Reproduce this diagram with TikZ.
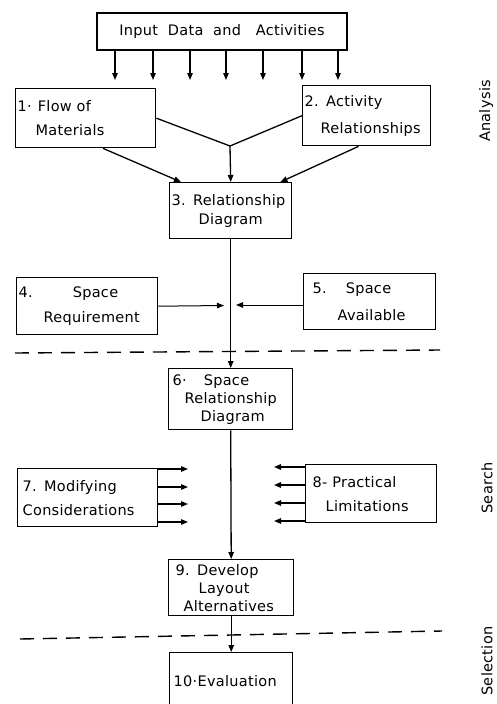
\documentclass[tikz,border=0pt]{standalone}
\usepackage{fontspec}
\newfontfamily\lettering{DejaVu Sans}[LetterSpace=2]
\usetikzlibrary{arrows.meta}
\tikzset{
  stagebox/.style={draw,line width=1.4pt,align=left,inner xsep=2pt,inner ysep=0pt,font=\lettering\fontsize{14.5}{#1}\selectfont},
  stagebox/.default=19,
  flow/.style={line width=1.3pt,-{Triangle[length=7pt,width=5.5pt]}},
  feed/.style={line width=1pt,-{Triangle[length=7pt,width=5.5pt]}},
  link/.style={line width=1.3pt},
  divider/.style={line width=1.4pt,dash pattern=on 14pt off 9pt},
  sidelabel/.style={font=\lettering\fontsize{14.5}{17}\selectfont,rotate=90}
}
\newcommand{\stagebox}[7]{\node[stagebox=#6,anchor=north west,text width=#4,minimum height=#5] (#1) at (#2,#3) {#7};}
\newcommand{\flowarrow}[2]{\draw[flow] (#1) -- (#2);}
\newcommand{\flowlink}[2]{\draw[link] (#1) -- (#2);}

\begin{document}
\begin{tikzpicture}[x=1pt,y=-1pt]
	\useasboundingbox (0,0) rectangle (496,704);
	\clip (0,0) rectangle (496,704);
	% analysis
	\node[stagebox,align=center,minimum width=250pt,minimum height=37pt] (inp) at (222,31.5) {Input~~Data~~and~~~Activities};
	\foreach \ax [count=\i] in {115,153,190,226,263,302,338} {
		\coordinate (intip\i) at (\ax,80);
		\draw[flow] (inp.south -| intip\i) -- (intip\i);
	}
	\stagebox{mat}{15}{88}{136pt}{59pt}{24}{1·\hspace{6pt}Flow of\\\hspace*{18pt}Materials}
	\stagebox{act}{302}{85}{124pt}{60pt}{27}{2. Activity\\\hspace*{16pt}Relationships}
	\stagebox{rel}{169}{182}{118pt}{56pt}{19}{3. Relationship\\\hspace*{27pt}Diagram}
	\coordinate (meet) at (230,146);
	\flowlink{mat.east}{meet} \flowlink{act.west}{meet}
	\flowarrow{meet}{rel.north}
	\flowarrow{mat.300}{rel.150} \flowarrow{act.255}{rel.30}
	\stagebox{req}{16}{277}{137pt}{57pt}{25}{4.\hspace{40pt}Space\\\hspace*{25pt}Requirement}
	\stagebox{avl}{303}{273}{128pt}{56pt}{27}{\hspace*{7pt}5.\hspace{19pt}Space\\\hspace*{32pt}Available}
	\coordinate (reqtip) at (224,305.5);
	\coordinate (avltip) at (236,305);
	\draw[feed] (req.east) -- (reqtip);
	\draw[feed] (avl.west |- avltip) -- (avltip);
	\draw[divider] (15,353) -- (440,350);
	% search
	\stagebox{srd}{168}{368}{120pt}{61pt}{18}{\hspace*{2pt}6·\hspace{17pt}Space\\\hspace*{14pt}Relationship\\\hspace*{30pt}Diagram}
	\flowarrow{rel.south}{srd.north}
	\stagebox{mod}{17}{468}{136pt}{58pt}{24}{\hspace*{3pt}7. Modifying\\\hspace*{3pt}Considerations}
	\stagebox{lim}{305}{464}{127pt}{58pt}{24}{\hspace*{5pt}8- Practical\\\hspace*{18pt}Limitations}
	\foreach \ay [count=\i] in {469,487,504,522} {
		\coordinate (modtip\i) at (188,\ay);
		\draw[flow] (mod.east |- modtip\i) -- (modtip\i);
	}
	\foreach \ay [count=\i] in {467,485,503,521} {
		\coordinate (limtip\i) at (274,\ay);
		\draw[flow] (lim.west |- limtip\i) -- (limtip\i);
	}
	\stagebox{dev}{168}{559}{121pt}{56pt}{18}{\hspace*{5pt}9. Develop\\\hspace*{28pt}Layout\\\hspace*{13pt}Alternatives}
	\flowarrow{srd.south}{dev.north}
	\draw[divider] (20,639) -- (442,631);
	% selection
	\stagebox{evl}{169}{652}{119pt}{56pt}{19}{\hspace*{2pt}10·Evaluation}
	\flowarrow{dev.south}{evl.north}
	\node[sidelabel] (analysis) at (486,111) {Analysis};
	\node[sidelabel] (search) at (487,488) {Search};
	\node[sidelabel] (selection) at (487,661) {Selection};
\end{tikzpicture}
\end{document}
